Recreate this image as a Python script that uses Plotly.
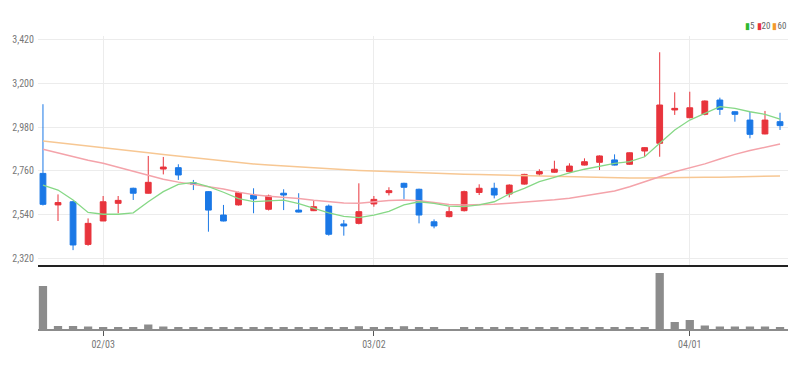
import plotly.graph_objects as go
from plotly.subplots import make_subplots

# ---- data ----
opens = [2747, 2588, 2604, 2389, 2507, 2596, 2672, 2647, 2769, 2776,
         2700, 2655, 2537, 2588, 2638, 2566, 2647, 2562, 2559, 2582,
         2492, 2495, 2593, 2650, 2697, 2667, 2503, 2529, 2559, 2651,
         2672, 2643, 2693, 2744, 2753, 2756, 2789, 2803, 2815, 2793,
         2860, 2899, 3067, 3028, 3045, 3117, 3058, 3016, 2946, 3008]
highs = [3096, 2641, 2608, 2520, 2633, 2633, 2675, 2835, 2830, 2793,
         2714, 2658, 2588, 2655, 2672, 2640, 2667, 2647, 2609, 2590,
         2512, 2697, 2633, 2677, 2700, 2670, 2515, 2579, 2660, 2692,
         2700, 2692, 2745, 2768, 2811, 2798, 2823, 2838, 2843, 2853,
         2880, 3358, 3156, 3159, 3115, 3129, 3060, 3058, 3062, 3053]
lows = [2585, 2507, 2360, 2382, 2507, 2546, 2613, 2645, 2742, 2714,
        2663, 2453, 2505, 2585, 2546, 2560, 2562, 2550, 2557, 2433,
        2433, 2490, 2579, 2636, 2618, 2495, 2470, 2525, 2555, 2638,
        2621, 2626, 2690, 2734, 2750, 2752, 2787, 2764, 2787, 2790,
        2831, 2831, 3042, 3025, 3040, 3042, 3008, 2924, 2944, 2966]
closes = [2591, 2600, 2386, 2495, 2604, 2611, 2647, 2702, 2779, 2739,
          2692, 2562, 2507, 2650, 2618, 2633, 2638, 2552, 2579, 2440,
          2482, 2554, 2616, 2660, 2677, 2537, 2482, 2554, 2655, 2672,
          2638, 2688, 2742, 2756, 2768, 2784, 2806, 2835, 2789, 2851,
          2877, 3092, 3075, 3078, 3112, 3070, 3045, 2944, 3016, 2988]
volumes = [43, 3, 3, 2.5, 1.6, 1.6, 1.6, 4.5, 2.5, 1.6,
           1.6, 1.6, 1.6, 1.6, 1.6, 1.6, 1.6, 1.6, 1.6, 1.6,
           1.6, 2.8, 1.6, 1.6, 2.8, 1.6, 1.6, 0, 1.6, 1.6,
           1.6, 1.6, 1.6, 1.6, 1.6, 1.6, 1.6, 1.6, 1.6, 1.6,
           1.6, 56, 7, 9, 3.5, 2.5, 2.5, 2.5, 2.5, 2]
ma5 = [2688, 2663, 2613, 2550, 2541, 2541, 2548, 2604, 2655, 2692,
       2702, 2680, 2652, 2620, 2605, 2610, 2612, 2595, 2572, 2548,
       2530, 2524, 2537, 2555, 2588, 2604, 2596, 2582, 2579, 2588,
       2604, 2643, 2672, 2705, 2727, 2750, 2768, 2784, 2798, 2806,
       2831, 2899, 2966, 3016, 3050, 3084, 3075, 3058, 3045, 3021]
ma20 = [2869, 2850, 2832, 2813, 2798, 2778, 2758, 2737, 2718, 2703,
        2692, 2680, 2668, 2652, 2640, 2632, 2627, 2621, 2612, 2604,
        2598, 2596, 2603, 2610, 2613, 2609, 2600, 2590, 2588, 2588,
        2591, 2596, 2601, 2608, 2614, 2622, 2633, 2646, 2658, 2680,
        2707, 2730, 2755, 2775, 2795, 2820, 2843, 2862, 2880, 2895]
ma60 = [2910, 2902, 2893, 2885, 2876, 2868, 2859, 2851, 2842, 2834,
        2826, 2817, 2809, 2800, 2795, 2790, 2785, 2780, 2775, 2770,
        2765, 2762, 2759, 2756, 2752, 2749, 2747, 2745, 2743, 2741,
        2739, 2737, 2735, 2733, 2731, 2729, 2727, 2725, 2724, 2724,
        2724, 2724, 2725, 2726, 2727, 2728, 2730, 2731, 2733, 2734]
x_tick_positions = [4, 22, 43]
x_tick_labels = ["02/03", "03/02", "04/01"]
y_tick_values = [2320, 2540, 2760, 2980, 3200, 3420]
legend_labels = ["5", "20", "60"]

UP = "#e8343c"
DOWN = "#1a78e6"
C5 = "#86d886"
C20 = "#f4a3aa"
C60 = "#f7c793"
FONT = "Liberation Sans Narrow, Roboto Condensed, Arial Narrow, Roboto, sans-serif"

idx = list(range(len(opens)))

fig = make_subplots(rows=2, cols=1, shared_xaxes=True,
                    row_heights=[0.7816, 0.2184], vertical_spacing=0.0)

fig.add_trace(go.Scatter(x=idx, y=ma60, mode="lines",
                         line=dict(color=C60, width=1.5), hoverinfo="skip"), row=1, col=1)
fig.add_trace(go.Scatter(x=idx, y=ma20, mode="lines",
                         line=dict(color=C20, width=1.5), hoverinfo="skip"), row=1, col=1)
fig.add_trace(go.Scatter(x=idx, y=ma5, mode="lines",
                         line=dict(color=C5, width=1.3), hoverinfo="skip"), row=1, col=1)
fig.add_trace(go.Candlestick(x=idx, open=opens, high=highs, low=lows, close=closes,
                             increasing=dict(line=dict(color=UP, width=1), fillcolor=UP),
                             decreasing=dict(line=dict(color=DOWN, width=1), fillcolor=DOWN),
                             whiskerwidth=0, hoverinfo="skip"), row=1, col=1)
fig.add_trace(go.Bar(x=idx, y=volumes, marker=dict(color="#8c8c8c", line=dict(width=0)),
                     width=0.55, hoverinfo="skip"), row=2, col=1)

# the page body has an 8px margin, so the figure is sized/offset to compensate
fig.update_layout(
    width=795, height=361,
    margin=dict(l=30, r=15, t=28, b=40, autoexpand=False),
    paper_bgcolor="white", plot_bgcolor="white",
    showlegend=False, boxgap=0.45,
    font=dict(family=FONT, size=10, color="#777"),
)

xr = [-0.33, 49.53]
fig.update_xaxes(range=xr, rangeslider=dict(visible=False), row=1, col=1,
                 tickvals=x_tick_positions, ticktext=["", "", ""],
                 showgrid=True, gridcolor="#ececec", gridwidth=1,
                 showline=True, linecolor="#222", linewidth=2, ticks="",
                 zeroline=False, automargin=False)
fig.update_xaxes(range=xr, row=2, col=1,
                 tickvals=x_tick_positions, ticktext=x_tick_labels,
                 showgrid=False, showline=True, linecolor="#8c8c8c", linewidth=2,
                 ticks="outside", ticklen=5, tickcolor="#555", tickwidth=1,
                 tickfont=dict(family=FONT, size=10, color="#777"), zeroline=False,
                 automargin=False)
fig.update_yaxes(range=[2285, 3440], row=1, col=1,
                 tickvals=y_tick_values, tickformat=",d",
                 showgrid=True, gridcolor="#ececec", gridwidth=1,
                 showline=False, zeroline=False, ticks="", ticklabelstandoff=3,
                 tickfont=dict(family=FONT, size=10, color="#777"), automargin=False)
fig.update_yaxes(range=[0, 64], row=2, col=1, showticklabels=False,
                 showgrid=False, zeroline=False, showline=False, automargin=False)

legend_colors = ["#2fb82f", UP, "#f39a2b"]
legend_text = "&nbsp;".join(
    f"<span style='color:{c}'>▮</span>{t}" for c, t in zip(legend_colors, legend_labels))
fig.add_annotation(xref="paper", yref="paper", x=1.0, y=1.0, yshift=3,
                   xanchor="right", yanchor="bottom", showarrow=False,
                   text=legend_text, font=dict(family=FONT, size=9, color="#666"))

fig.write_html("out.html")
